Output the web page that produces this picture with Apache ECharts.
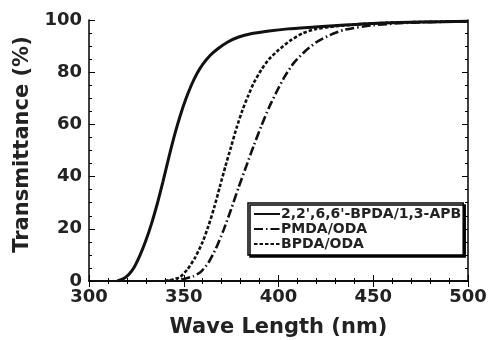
<!DOCTYPE html>
<html><head><meta charset="utf-8">
<script src="https://cdn.jsdelivr.net/npm/echarts@6/dist/echarts.min.js"></script>
<style>html,body{margin:0;padding:0;background:#fff}#c{width:493px;height:340px}</style>
</head><body><div id="c"></div>
<script>
const xTitle = 'Wave Length (nm)';
const yTitle = 'Transmittance (%)';
const seriesNames = ["2,2',6,6'-BPDA/1,3-APB", 'PMDA/ODA', 'BPDA/ODA'];

const apbX = [315,318,321,324,327,330,333,336,339,342,345,348,351,354,357,360,364,368,373,379,386,395,405,419,435,452,475,500];
const apbT = [0,0.8,2.5,5.5,10,15.5,22,29.5,38,47,55.5,63,69.5,75,79.5,83,86.5,89,91.5,93.5,94.8,95.8,96.6,97.3,98.1,98.8,99.2,99.5];

const pmdaX = [340,345,350,355,359,363,367,371,375,379,383,387,391,395,399,403,408,414,420,427,435,450,470,500];
const pmdaT = [0,0.3,0.8,1.8,3.5,7,12.5,19.5,27.5,36,44,52,59.5,66.5,72.5,78,83.5,88,91.5,94.2,96.3,98,99,99.5];

const bpdaX = [340,344,348,352,356,360,363,366,369,372,375,378,381,384,387,391,395,400,406,413,420,430,445,460,480,500];
const bpdaT = [0,0.5,1.5,4.5,9,15,21,28,36,44,51.5,59,65.5,71,76,81,85,88.5,92,95,96.6,97.6,98.5,99,99.3,99.5];

const zip = (a, b) => a.map((v, i) => [v, b[i]]);
const FONT = 'DejaVu Sans';

const chart = echarts.init(document.getElementById('c'));
const mk = (extra, split) => Object.assign({
  axisLine: {show: true, lineStyle: {color: '#000', width: 1.5}},
  axisTick: {show: true, inside: true, length: 6, lineStyle: {color: '#000', width: 1}},
  minorTick: {show: true, splitNumber: split, length: 3, lineStyle: {color: '#000', width: 1}},
  splitLine: {show: false}
}, extra);
chart.setOption({
  animation: false,
  backgroundColor: '#fff',
  color: ['#111', '#111', '#111'],
  textStyle: {fontFamily: FONT},
  grid: {left: 89, right: 25, top: 20, bottom: 59, containLabel: false, outerBoundsMode: 'none'},
  xAxis: [
    mk({type: 'value', min: 300, max: 500, interval: 50, position: 'bottom',
      name: xTitle, nameLocation: 'middle', nameGap: 36,
      nameTextStyle: {fontFamily: FONT, fontWeight: 'bold', fontSize: 21, color: '#222'},
      axisLabel: {fontFamily: FONT, fontWeight: 'bold', fontSize: 18, color: '#222', margin: 7}}, 5),
    mk({type: 'value', min: 300, max: 500, interval: 50, position: 'top', axisLabel: {show: false}}, 5)
  ],
  yAxis: [
    mk({type: 'value', min: 0, max: 100, interval: 20, position: 'left',
      name: yTitle, nameLocation: 'middle', nameGap: 56,
      nameTextStyle: {fontFamily: FONT, fontWeight: 'bold', fontSize: 21, color: '#222', padding: [0, 0, 0, 12]},
      axisLabel: {fontFamily: FONT, fontWeight: 'bold', fontSize: 18, color: '#222', margin: 7}}, 4),
    mk({type: 'value', min: 0, max: 100, interval: 20, position: 'right', axisLabel: {show: false}}, 4)
  ],
  legend: {
    show: true, orient: 'vertical', left: 248, top: 203,
    backgroundColor: '#fff', borderColor: '#000', borderWidth: 1.5, borderRadius: 0,
    padding: [4, 2, 4, 5], itemGap: 1, itemWidth: 26, itemHeight: 13,
    shadowColor: '#000', shadowOffsetX: 2, shadowOffsetY: 2, shadowBlur: 0,
    itemStyle: {opacity: 0},
    textStyle: {fontFamily: FONT, fontWeight: 'bold', fontSize: 14, color: '#222', padding: [0, 0, 0, -4]},
    data: seriesNames
  },
  series: [
    {name: seriesNames[0], type: 'line', symbol: 'none', smooth: 0.2,
      data: zip(apbX, apbT), lineStyle: {color: '#111', width: 3}, z: 3},
    {name: seriesNames[1], type: 'line', symbol: 'none', smooth: 0.2,
      data: zip(pmdaX, pmdaT), lineStyle: {color: '#111', width: 2.6, type: [9, 3, 1.5, 3]}},
    {name: seriesNames[2], type: 'line', symbol: 'none', smooth: 0.2,
      data: zip(bpdaX, bpdaT), lineStyle: {color: '#111', width: 2.6, type: [3.5, 2]}}
  ]
});
</script></body></html>
